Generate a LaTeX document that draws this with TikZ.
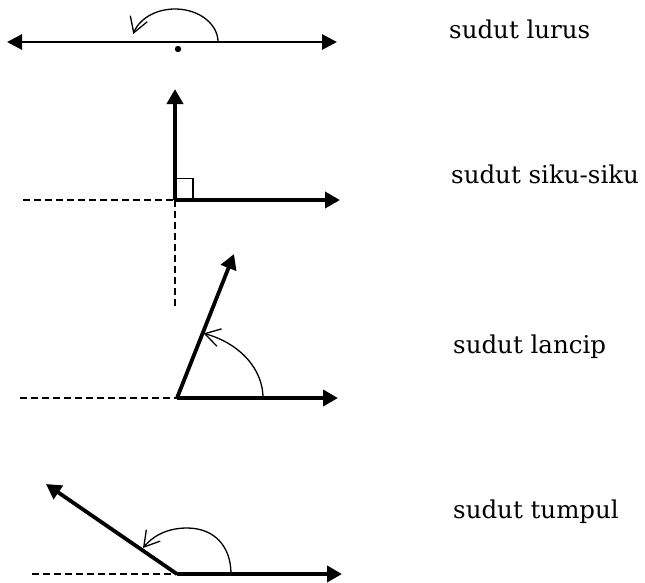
\documentclass[tikz,border=0pt]{standalone}
\usepackage{fontspec}
\setmainfont{DejaVu Serif}
\usetikzlibrary{arrows.meta}
\begin{document}
\begin{tikzpicture}[x=1pt,y=-1pt,
  ray/.style={line width=3.8pt,-{Triangle[length=15pt,width=16pt]}},
  dbl/.style={line width=2.8pt,{Triangle[length=15pt,width=15pt]}-{Triangle[length=15pt,width=15pt]}},
  aux/.style={line width=1.4pt,dash pattern=on 7pt off 4pt},
  turn/.style={line width=1.3pt,-{Straight Barb[length=15pt,width=18pt,line width=1.3pt]}},
  lbl/.style={anchor=base west,inner sep=0pt,font=\fontsize{24.5}{28}\selectfont}]
\useasboundingbox (0,0) rectangle (645,582);
% --- straight angle
\coordinate (L1) at (7,42);
\coordinate (R1) at (337,42);
\draw[dbl] (L1) -- (R1);
\fill (178,49) circle (3.2pt);
\draw[turn] plot[domain=0:166,samples=40,smooth] ({175+43*cos(\x)},{42-33*sin(\x)});
\node[lbl] (t1) at (449,38) {sudut lurus};
% --- right angle
\coordinate (V2) at (175,200);
\coordinate (U2) at (175,89);
\coordinate (H2) at (340,200);
\coordinate (D2a) at (23,200);
\coordinate (D2b) at (175,306);
\draw[aux] (D2a) -- (V2);
\draw[aux] (V2) -- (D2b);
\draw[line width=1.2pt] (175,178.5) -- (193,178.5) -- (193,200);
\draw[ray] (V2) -- (U2);
\draw[ray] (V2) -- (H2);
\node[lbl] (t2) at (451,183) {sudut siku-siku};
% --- acute angle
\coordinate (V3) at (177,398);
\coordinate (S3) at (234,254);
\coordinate (H3) at (338,398);
\coordinate (D3) at (20,398);
\draw[aux] (D3) -- (V3);
\draw[ray] (V3) -- (S3);
\draw[ray] (V3) -- (H3);
\draw[turn] plot[domain=0:72,samples=30,smooth] ({177+86*cos(\x)},{398-68*sin(\x)});
\node[lbl] (t3) at (453,353) {sudut lancip};
% --- obtuse angle
\coordinate (V4) at (177,574);
\coordinate (S4) at (46,484);
\coordinate (H4) at (342,574);
\coordinate (D4) at (32,574);
\draw[aux] (D4) -- (V4);
\draw[ray] (V4) -- (S4);
\draw[ray] (V4) -- (H4);
\draw[turn] (231,574) .. controls (231,546) and (214,528) .. (187,528) .. controls (166,528) and (152,537) .. (143,548);
\node[lbl] (t4) at (453,518) {sudut tumpul};
\end{tikzpicture}
\end{document}
